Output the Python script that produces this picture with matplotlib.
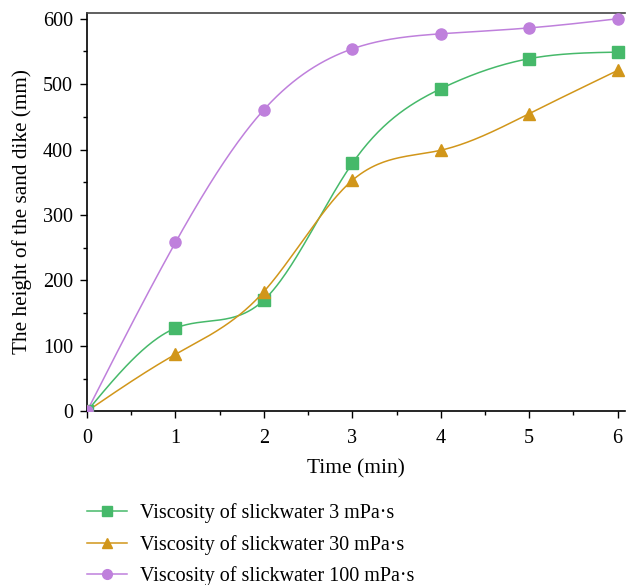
import numpy as np
import matplotlib
matplotlib.use("Agg")
import matplotlib.pyplot as plt
from matplotlib.ticker import MultipleLocator

plt.rcParams['font.family'] = ['Liberation Serif', 'DejaVu Serif']

# data
time_min = [0, 1, 2, 3, 4, 5, 6]
h_3 = [0, 127, 170, 379, 493, 539, 549]
h_30 = [0, 87, 183, 353, 399, 455, 521]
h_100 = [0, 258, 461, 554, 577, 586, 600]
labels = ["Viscosity of slickwater 3 mPa·s",
          "Viscosity of slickwater 30 mPa·s",
          "Viscosity of slickwater 100 mPa·s"]


def spline(x, y, n=300):
    # natural cubic spline, only used to draw the smooth connecting line
    x = np.asarray(x, float)
    y = np.asarray(y, float)
    k = len(x)
    h = np.diff(x)
    A = np.zeros((k, k))
    b = np.zeros(k)
    A[0, 0] = A[-1, -1] = 1
    for i in range(1, k - 1):
        A[i, i - 1] = h[i - 1]
        A[i, i] = 2 * (h[i - 1] + h[i])
        A[i, i + 1] = h[i]
        b[i] = 6 * ((y[i + 1] - y[i]) / h[i] - (y[i] - y[i - 1]) / h[i - 1])
    M = np.linalg.solve(A, b)
    xs = np.linspace(x[0], x[-1], n)
    idx = np.clip(np.searchsorted(x, xs) - 1, 0, k - 2)
    x0, x1 = x[idx], x[idx + 1]
    hh = x1 - x0
    t0, t1 = x1 - xs, xs - x0
    ys = (M[idx] * t0 ** 3 + M[idx + 1] * t1 ** 3) / (6 * hh) \
        + (y[idx] / hh - M[idx] * hh / 6) * t0 \
        + (y[idx + 1] / hh - M[idx + 1] * hh / 6) * t1
    return xs, ys


fig = plt.figure(figsize=(6.26, 5.85), dpi=100)
ax = fig.add_axes([0.139, 0.297, 0.859, 0.681])

series = [(h_3, "#46b96a", "s"), (h_30, "#d1961a", "^"), (h_100, "#bf80dc", "o")]
for (ys, col, mk), lab in zip(series, labels):
    xs, yy = spline(time_min, ys)
    ax.plot(xs, yy, color=col, lw=1.1, zorder=2)
    ax.plot(time_min, ys, ls="none", marker=mk, color=col, ms=8 if mk != "^" else 9, zorder=3)
    ax.plot([], [], color=col, lw=1.1, marker=mk, ms=7, label=lab)

ax.set_xlim(0, 6.08)
ax.set_ylim(0, 609)
ax.xaxis.set_major_locator(MultipleLocator(1))
ax.xaxis.set_minor_locator(MultipleLocator(0.5))
ax.yaxis.set_major_locator(MultipleLocator(100))
ax.yaxis.set_minor_locator(MultipleLocator(50))
ax.tick_params(which="major", direction="out", length=5, width=1, labelsize=14.5, pad=5)
ax.tick_params(axis="x", which="major", pad=8)
ax.tick_params(which="minor", direction="out", length=3, width=1)
ax.spines["right"].set_visible(False)
for s in ["left", "bottom", "top"]:
    ax.spines[s].set_linewidth(1.2)
ax.spines["top"].set_color("#444444")

ax.set_xlabel("Time (min)", fontsize=15.4, labelpad=8)
ax.set_ylabel("The height of the sand dike (mm)", fontsize=15.3, labelpad=8)

fig.legend(loc="upper left", bbox_to_anchor=(0.139, 0.14), frameon=False,
           fontsize=14.5, handlelength=2.0, handletextpad=0.65,
           labelspacing=0.58, borderpad=0, borderaxespad=0)

fig.savefig("out.png", dpi=100)
